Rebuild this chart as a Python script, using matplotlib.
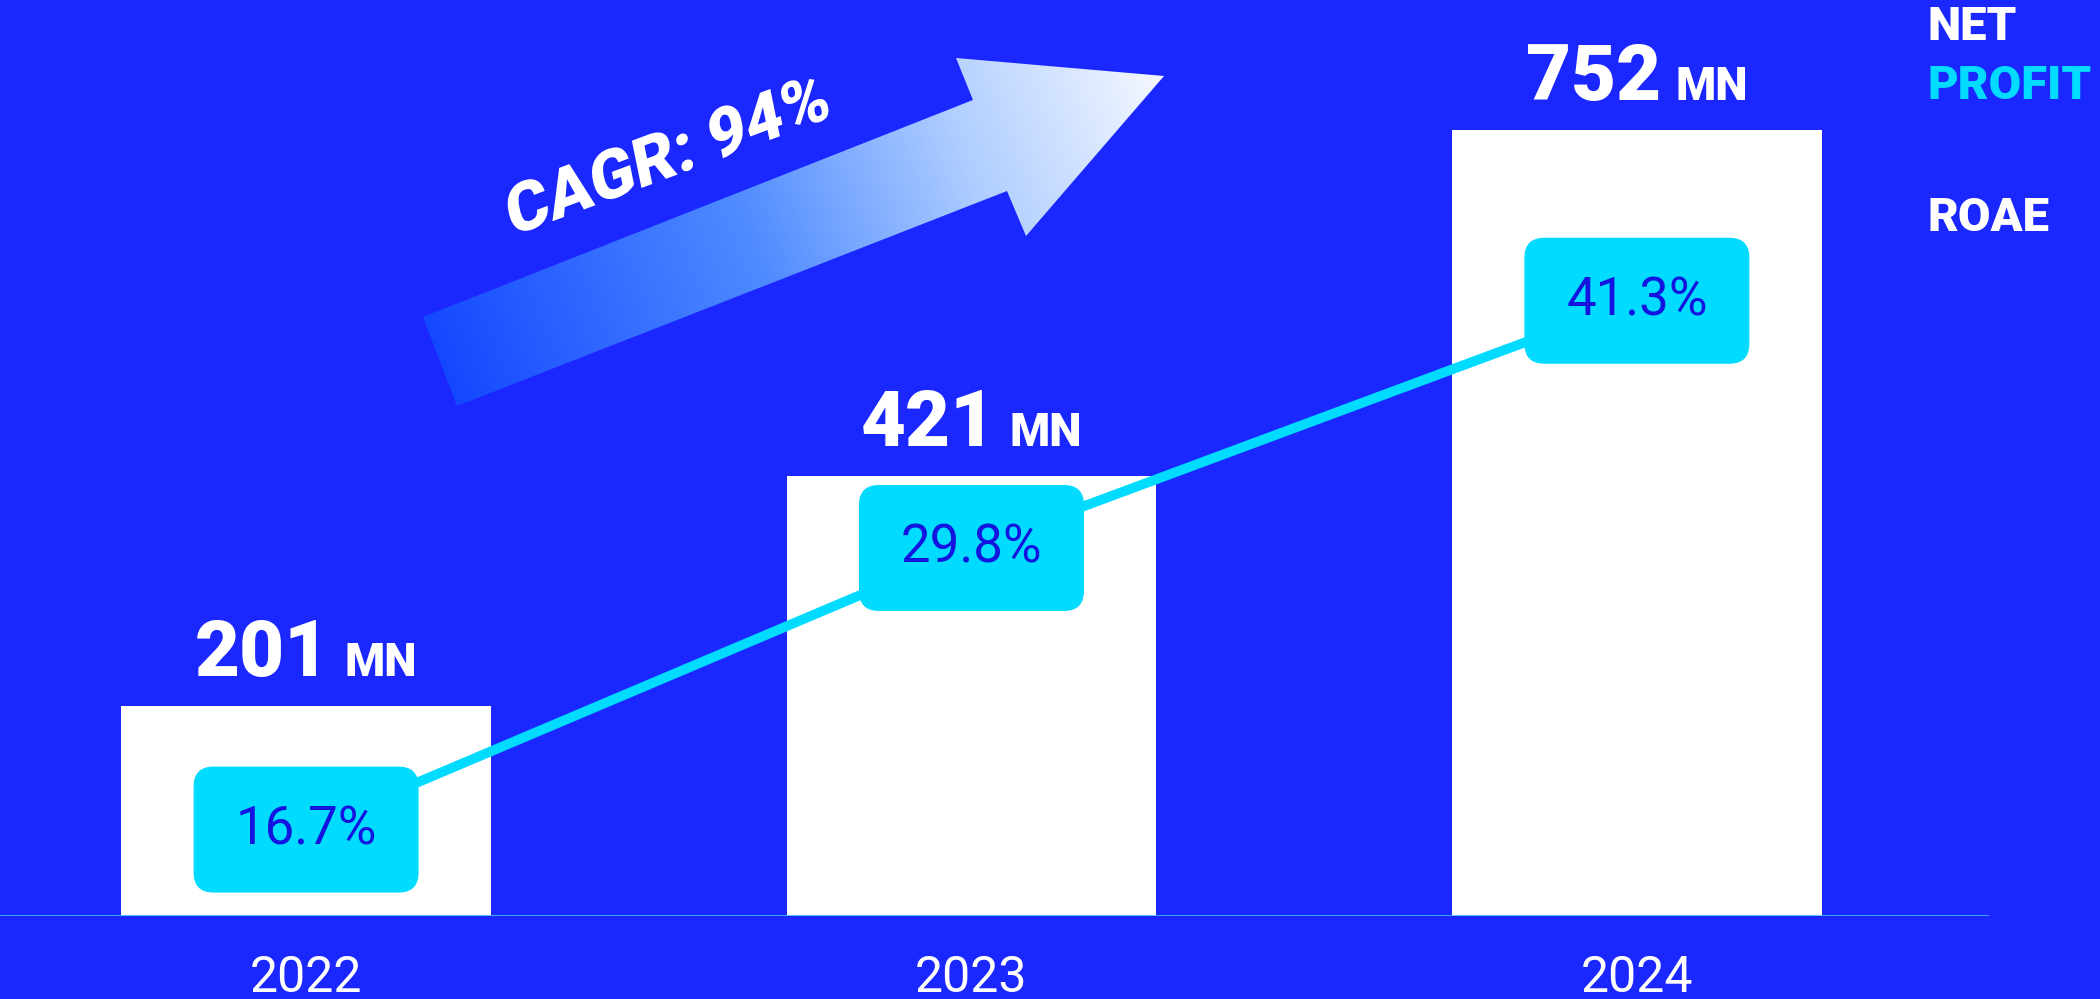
import numpy as np
import matplotlib.pyplot as plt
from matplotlib.colors import LinearSegmentedColormap
from matplotlib.patches import Polygon, FancyBboxPatch, PathPatch
from matplotlib.textpath import TextPath
from matplotlib.font_manager import FontProperties
from matplotlib.transforms import Affine2D

years = ['2022', '2023', '2024']
net_profit = [201, 421, 752]   # MN
roae = [16.7, 29.8, 41.3]      # %
cagr = 94

BG = '#1a28ff'
CYAN = '#00dbff'
INK = '#1414e0'

plt.rcParams['font.family'] = ['Roboto', 'DejaVu Sans']

fig = plt.figure(figsize=(21, 9.99), dpi=100, facecolor=BG)

# bars: net profit
ax = fig.add_axes([0, 83 / 999, 1, 916 / 999])
x = np.arange(len(years))
ax.bar(x, net_profit, width=0.556, color='white', zorder=1)
ax.set_xlim(-0.46, 2.696)
ax.set_ylim(0, 876.6)
ax.axis('off')
ax.axhline(0, xmax=0.946, color='#3cb9ff', lw=2, zorder=3)

renderer = fig.canvas.get_renderer()
for xi, val in zip(x, net_profit):
    big = ax.annotate(str(val), (xi, val), xytext=(0, 30), textcoords='offset pixels',
                      ha='left', va='baseline', fontsize=56, fontweight='black',
                      color='white', annotation_clip=False)
    small = ax.annotate('MN', (xi, val), xytext=(0, 30), textcoords='offset pixels',
                        ha='left', va='baseline', fontsize=33, fontweight='black',
                        color='white', annotation_clip=False)
    w1 = big.get_window_extent(renderer).width
    w2 = small.get_window_extent(renderer).width
    gap = 14
    left = -(w1 + gap + w2) / 2
    big.xyann = (left, 30)
    small.xyann = (left + w1 + gap, 30)

for xi, yr in zip(x, years):
    ax.annotate(yr, (xi, 0), xytext=(0, -76), textcoords='offset pixels',
                ha='center', va='baseline', fontsize=36, color='white',
                annotation_clip=False)

# ROAE line with rounded value boxes
ax2 = ax.twinx()
ax2.set_ylim(12.68, 55.29)
ax2.axis('off')
ax2.plot(x, roae, color=CYAN, lw=7, solid_capstyle='butt', zorder=2)

px_x = fig.bbox.width / (2.696 + 0.46)
px_y = 916 / (55.29 - 12.68)
bw, bh = 225 / px_x, 126 / px_y
for xi, v in zip(x, roae):
    box = FancyBboxPatch((xi - bw / 2, v - bh / 2), bw, bh,
                         boxstyle='round,pad=0,rounding_size=%f' % (20 / px_x),
                         mutation_aspect=px_x / px_y, fc=CYAN, ec='none', zorder=3)
    ax2.add_patch(box)
    ax2.text(xi, v, f'{v:.1f}%', ha='center', va='center', fontsize=38,
             color=INK, zorder=4)

# overlay in pixel space: growth arrow and side legend
deco = fig.add_axes([0, 0, 1, 1])
deco.axis('off')

arrow_pts = [(423, 317), (973, 100), (956, 58), (1164, 76),
             (1026, 236), (1007, 191), (457, 406)]
poly = Polygon(arrow_pts, closed=True, fc='none', ec='none',
               transform=deco.transData)
deco.add_patch(poly)

gx, gy = np.meshgrid(np.linspace(423, 1164, 300), np.linspace(58, 406, 150))
t = (gx - 423) * 0.93 + (406 - gy) * 0.366
t = np.clip((t - 30) / 780, 0, 1)
cmap = LinearSegmentedColormap.from_list(
    'arrow', [(0, '#1448ff'), (0.43, '#4f8bff'), (0.73, '#b0ceff'), (1, '#f5f8ff')])
im = deco.imshow(t, extent=(423, 1164, 406, 58), cmap=cmap, aspect='auto',
                 interpolation='bilinear', vmin=0, vmax=1)
im.set_clip_path(poly)

# slanted, rotated CAGR caption drawn as a path
tp = TextPath((0, 0), f'CAGR: {cagr}%', size=67,
              prop=FontProperties(family='Roboto', weight='black'))
ext = tp.get_extents()
cx, cy = (ext.x0 + ext.x1) / 2, (ext.y0 + ext.y1) / 2
tr = (Affine2D().translate(-cx, -cy).skew_deg(9, 0).rotate_deg(20.5)
      .translate(667, fig.bbox.height - 153))
fig.add_artist(PathPatch(tp, fc='white', ec='none', transform=tr))

deco.text(1928, 40, 'NET', va='baseline', fontsize=34, fontweight='black', color='white')
deco.text(1928, 99, 'PROFIT', va='baseline', fontsize=34, fontweight='black', color=CYAN)
deco.text(1928, 231, 'ROAE', va='baseline', fontsize=34, fontweight='black', color='white')

deco.set_xlim(0, 2100)
deco.set_ylim(999, 0)

fig.savefig('out.png', dpi=100, facecolor=BG)
